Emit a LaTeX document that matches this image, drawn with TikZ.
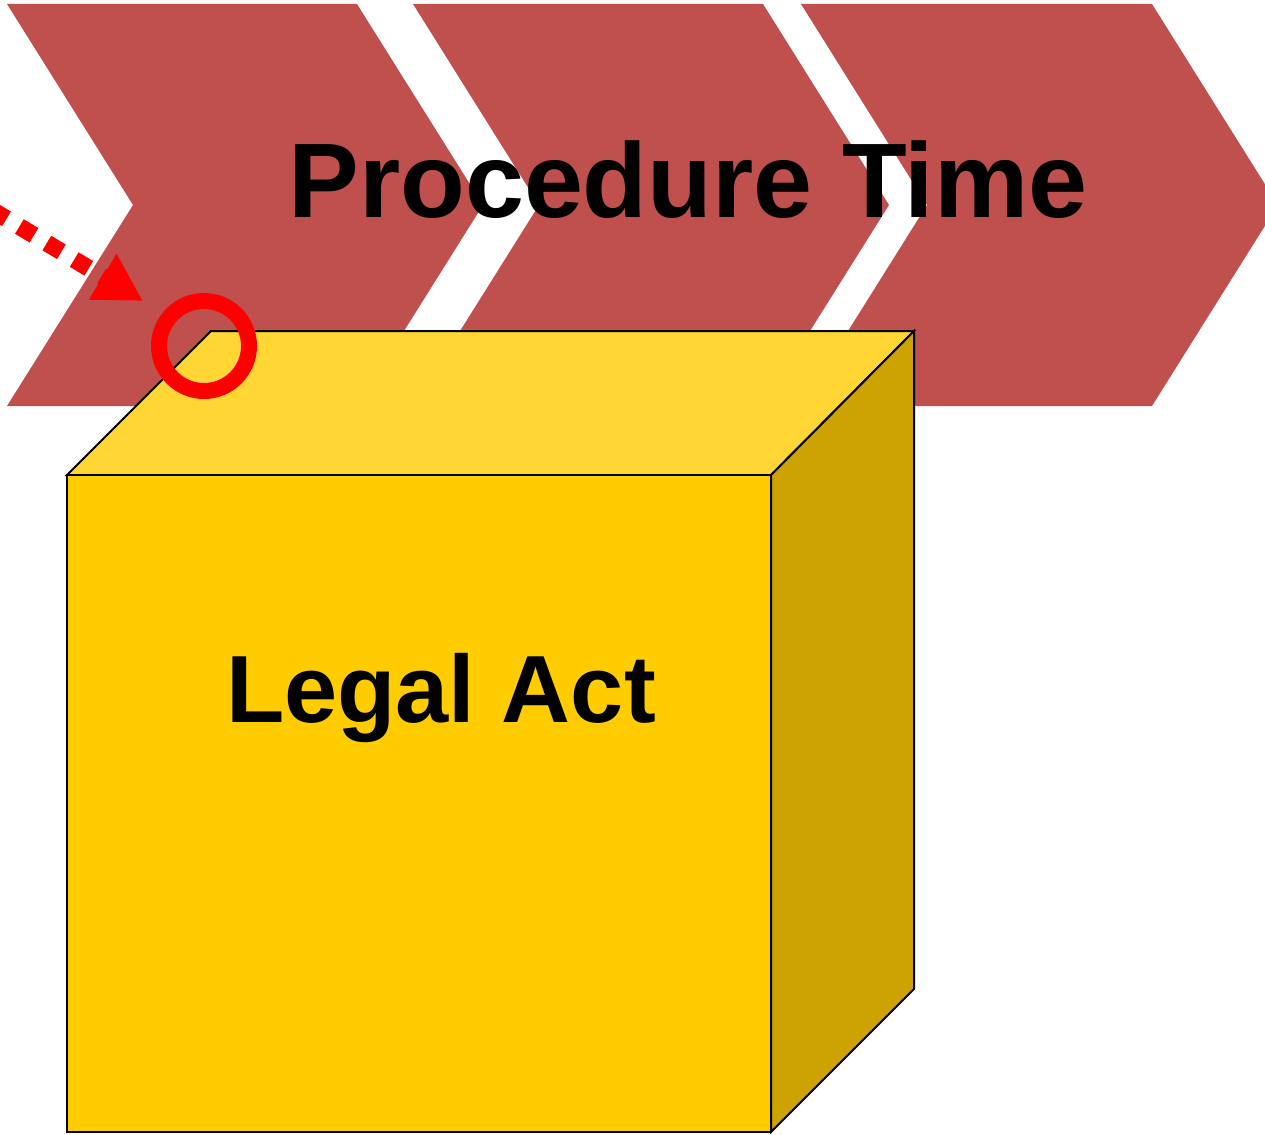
\documentclass[tikz,border=0pt]{standalone}
\usepackage{fontspec}
\setmainfont{Liberation Sans}
\usetikzlibrary{arrows.meta}
\definecolor{chev}{HTML}{C0504D}
\definecolor{cubefront}{HTML}{FFCC00}
\definecolor{cubetop}{HTML}{FFD633}
\definecolor{cubeside}{HTML}{CCA300}
\definecolor{mark}{HTML}{FF0000}
\tikzset{
  chevron/.style={fill=chev, draw=none},
  cubeface/.style={draw=black, line width=2pt, line join=miter},
  bigtext/.style={font=\bfseries\fontsize{106}{120}\selectfont, inner sep=0pt, anchor=base},
  acttext/.style={font=\bfseries\fontsize{95.5}{110}\selectfont, inner sep=0pt, anchor=base},
  marker/.style={draw=mark, line width=16pt},
  dotarrow/.style={draw=mark, line width=17pt, dash pattern=on 17pt off 15pt,
    -{Triangle[length=47pt,width=50pt]}}
}
\begin{document}
\begin{tikzpicture}[x=1pt,y=-1pt]
\useasboundingbox (0,0) rectangle (1265,1134);
% chevrons
\fill[chevron] (7,4) -- (357,4) -- (483,205) -- (357,406) -- (7,406) -- (133,205) -- cycle;
\fill[chevron] (413,4) -- (763,4) -- (889,205) -- (763,406) -- (413,406) -- (539,205) -- cycle;
\fill[chevron] (801,4) -- (1152,4) -- (1278,205) -- (1152,406) -- (801,406) -- (927,205) -- cycle;
\node[bigtext] (proc) at (688,217) {Procedure Time};
% cube
\coordinate (ftl) at (67,475);
\coordinate (ftr) at (771,475);
\coordinate (fbl) at (67,1132);
\coordinate (fbr) at (771,1132);
\coordinate (btl) at (211,331);
\coordinate (btr) at (914,331);
\coordinate (bbr) at (914,989);
\filldraw[cubeface, fill=cubetop] (ftl) -- (btl) -- (btr) -- (ftr) -- cycle;
\filldraw[cubeface, fill=cubeside] (ftr) -- (btr) -- (bbr) -- (fbr) -- cycle;
\filldraw[cubeface, fill=cubefront] (ftl) -- (ftr) -- (fbr) -- (fbl) -- cycle;
\node[acttext] (act) at (441,722) {Legal Act};
% marker and arrow
\node[circle, marker, minimum size=90pt, inner sep=0pt] (ring) at (204,346) {};
\coordinate (as) at (-8,210);
\coordinate (ae) at (143,301);
\draw[dotarrow] (as) -- (ae);
\end{tikzpicture}
\end{document}
